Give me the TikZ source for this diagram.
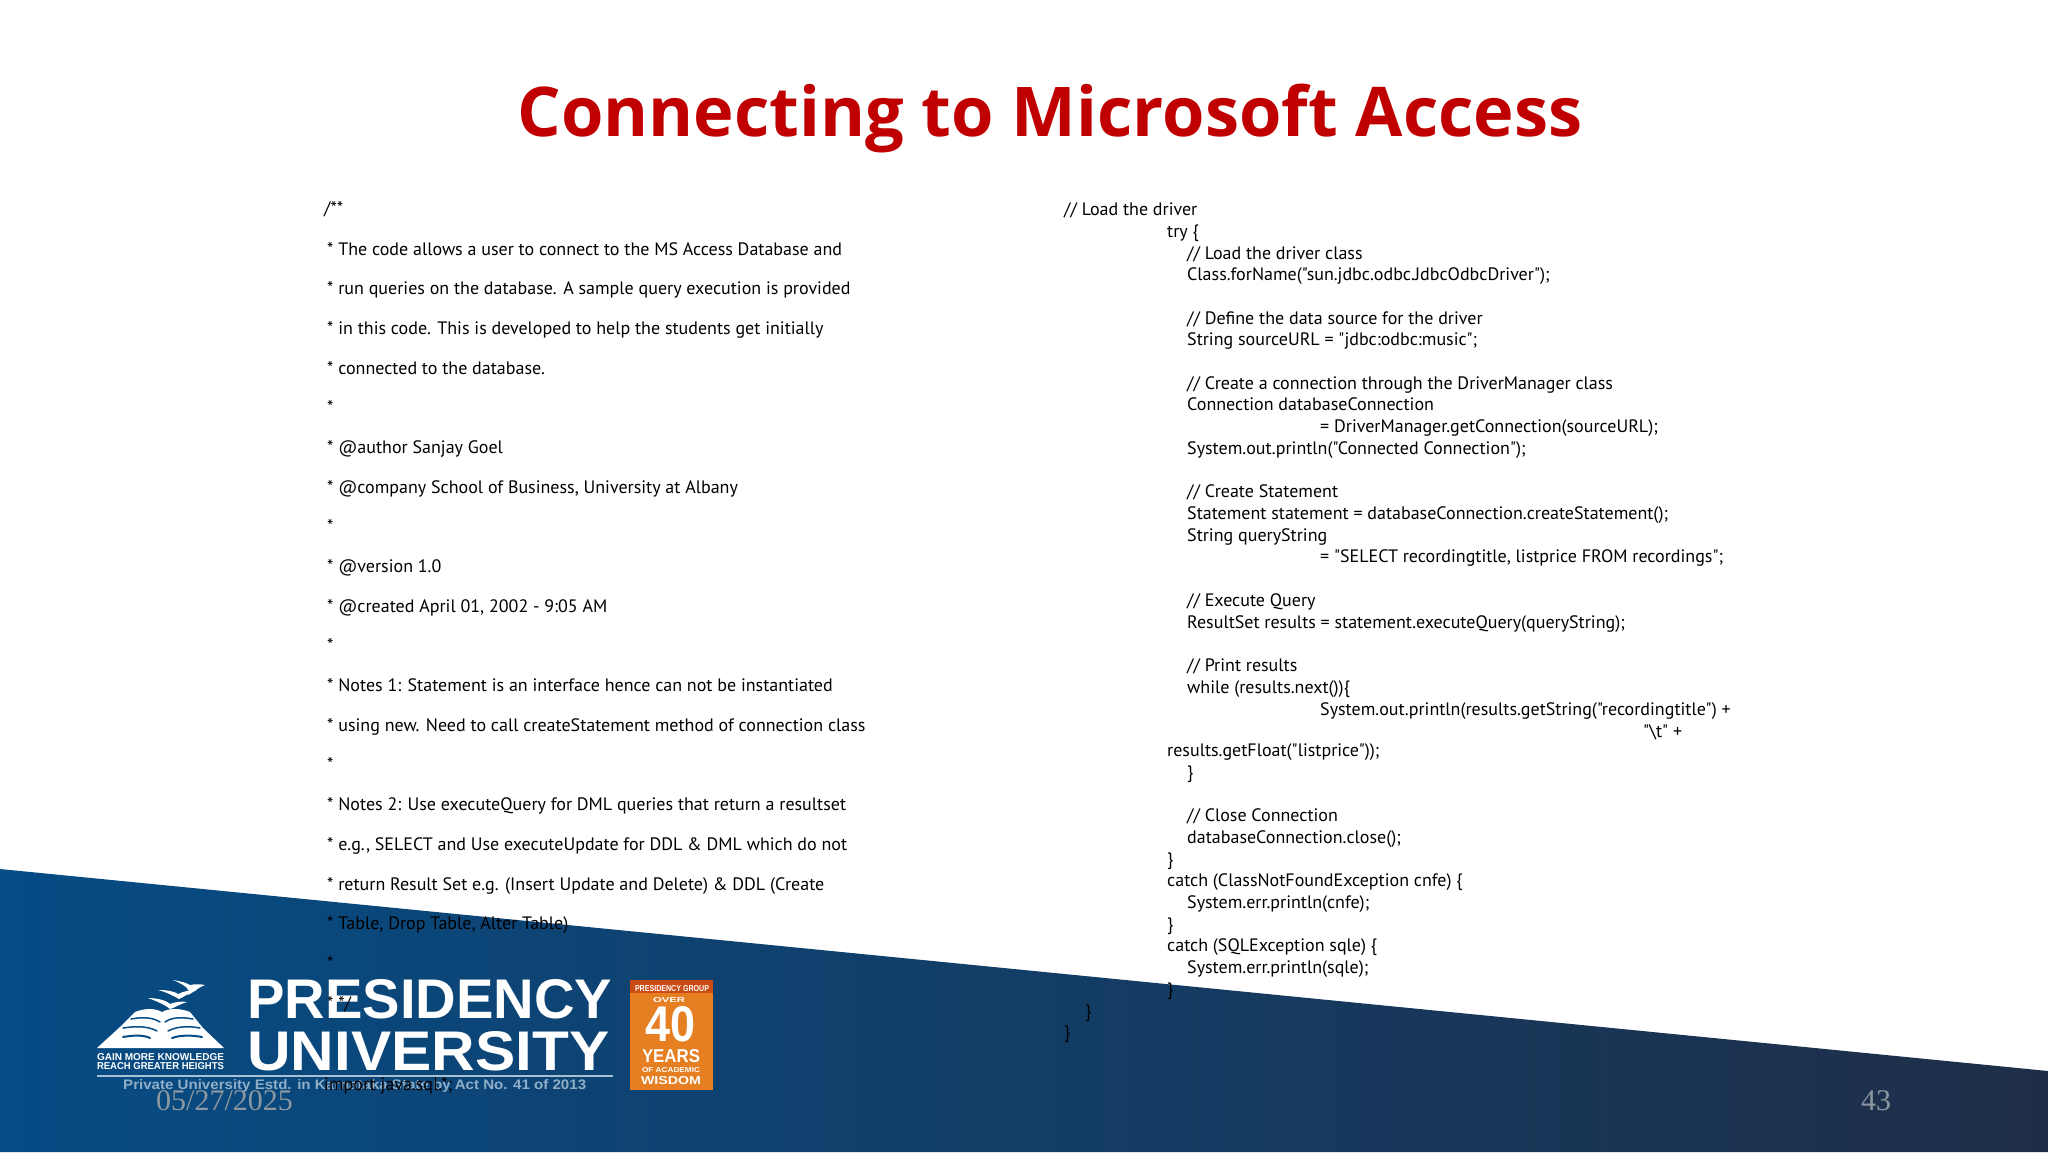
\documentclass[tikz,border=0pt]{standalone}
\usepackage{fontspec}
\usepackage{graphicx}
\setmainfont{Noto Sans}
\newfontfamily\titlefont{Open Sans}
\newfontfamily\codefont{PT Sans}
\newfontfamily\numfont{Liberation Serif}
\newfontfamily\logofont{Liberation Sans}
\definecolor{titlered}{HTML}{C00000}
\definecolor{bandL}{HTML}{064C85}
\definecolor{bandM}{HTML}{0D4370}
\definecolor{bandR}{HTML}{1F2E48}
\definecolor{numgray}{HTML}{8C97A0}
\definecolor{badge}{HTML}{E67E22}
\tikzset{
  code/.style={anchor=base west,inner sep=0pt,yshift=-1pt,text=black,font=\codefont\fontsize{18}{20}\selectfont},
  logotext/.style={inner sep=0pt,text=white,font=\logofont\bfseries},
  numtext/.style={inner sep=0pt,text=numgray,font=\numfont\fontsize{30}{34}\selectfont},
  emblem/.style={fill=white,draw=none},
  stripe/.style={draw=bandL,line width=1.5pt,line cap=round},
}
\newcommand{\fitbox}[3]{\resizebox{#1pt}{#2pt}{#3}}
\begin{document}
\begin{tikzpicture}[x=1pt,y=-1pt]
\useasboundingbox (0,0) rectangle (2048,1152);
\fill[white] (0,0) rectangle (2048,1152);
% band
\shade[left color=bandL,middle color=bandM,right color=bandR,shading angle=90] (0,869) -- (2048,1071) -- (2048,1152) -- (0,1152) -- cycle;
% title
\node[inner sep=0pt,anchor=base,text=titlered,font=\titlefont\bfseries\fontsize{68.6}{80}\selectfont] (title) at (1050,136) {Connecting to Microsoft Access};
% logo: emblem
\fill[emblem] (97,1048) -- (120,1027) -- (135,1012) .. controls (145,1008) and (155,1008) .. (162,1012) .. controls (169,1008) and (180,1008) .. (190,1012) -- (203,1028) -- (224,1048) -- cycle;
\draw[stripe] (131,1019) .. controls (142,1017) and (152,1017) .. (160,1022);
\draw[stripe] (165,1022) .. controls (172,1017) and (182,1017) .. (193,1019);
\draw[stripe] (123,1028) .. controls (136,1026) and (148,1026) .. (157,1031);
\draw[stripe] (168,1031) .. controls (177,1026) and (190,1026) .. (200,1028);
\draw[stripe,line width=2pt] (123,1037) .. controls (134,1035) and (144,1035) .. (150,1038);
\draw[stripe,line width=2pt] (172,1038) .. controls (180,1035) and (192,1035) .. (202,1037);
\fill[emblem] (148,998) .. controls (156,998) and (166,1000) .. (170,1004) .. controls (175,1002) and (182,1001) .. (187,1002) .. controls (180,1004) and (174,1008) .. (170,1009) .. controls (164,1004) and (156,1001) .. (148,998) -- cycle;
\fill[emblem] (158,990) .. controls (166,990) and (174,991) .. (178,994) .. controls (184,991) and (191,990) .. (197,990) .. controls (190,992) and (184,997) .. (179,999) .. controls (172,995) and (166,992) .. (158,990) -- cycle;
\fill[emblem] (173,980) .. controls (180,981) and (187,983) .. (190,985) .. controls (195,984) and (200,984) .. (205,985) .. controls (199,987) and (194,992) .. (188,995) .. controls (190,991) and (188,989) .. (186,987) .. controls (182,984) and (178,982) .. (173,980) -- cycle;
\node[logotext] (tag1) at (160.5,1057) {\fitbox{127}{7}{GAIN MORE KNOWLEDGE}};
\node[logotext] (tag2) at (160.5,1066) {\fitbox{127}{7}{REACH GREATER HEIGHTS}};
% logo: wordmark
\node[logotext,anchor=north west] (pres) at (247,979) {\fitbox{365}{39}{PRESIDENCY}};
\node[logotext,anchor=north west] (univ) at (247,1031) {\fitbox{362}{39}{UNIVERSITY}};
\fill[white!65!bandL] (97,1075) rectangle (613,1077);
\node[logotext,text=white!55!bandL,anchor=west] (estd) at (123,1086) {\fitbox{463}{10}{Private University Estd. in Karnataka State by Act No. 41 of 2013}};
% logo: badge
\fill[badge] (630,980) rectangle (713,1090);
\fill[badge!70!red!85!black] (630,980) rectangle (713,993);
\node[logotext] (bd1) at (672,988.5) {\fitbox{74}{6}{PRESIDENCY GROUP}};
\node[logotext] (bd2) at (669,1000.5) {\fitbox{32}{5}{OVER}};
\node[logotext] (bd3) at (670,1024.5) {\fitbox{50}{35}{40}};
\node[logotext] (bd4) at (671,1056.5) {\fitbox{58}{13}{YEARS}};
\node[logotext] (bd5) at (671,1070.5) {\fitbox{58}{5}{OF ACADEMIC}};
\node[logotext] (bd6) at (671,1081) {\fitbox{60}{8}{WISDOM}};
% left code column
\node[code] (l0) at (324,213) {/**};
\node[code] (l1) at (327,254) {* The code allows a user to connect to the MS Access Database and};
\node[code] (l2) at (327,293) {* run queries on the database. A sample query execution is provided};
\node[code] (l3) at (327,333) {* in this code. This is developed to help the students get initially};
\node[code] (l4) at (327,373) {* connected to the database.};
\node[code] (l5) at (327,412) {*};
\node[code] (l6) at (327,452) {* @author Sanjay Goel};
\node[code] (l7) at (327,492) {* @company School of Business, University at Albany};
\node[code] (l8) at (327,531) {*};
\node[code] (l9) at (327,571) {* @version 1.0};
\node[code] (l10) at (327,611) {* @created April 01, 2002 - 9:05 AM};
\node[code] (l11) at (327,650) {*};
\node[code] (l12) at (327,690) {* Notes 1: Statement is an interface hence can not be instantiated};
\node[code] (l13) at (327,730) {* using new. Need to call createStatement method of connection class};
\node[code] (l14) at (327,769) {*};
\node[code] (l15) at (327,809) {* Notes 2: Use executeQuery for DML queries that return a resultset};
\node[code] (l16) at (327,849) {* e.g., SELECT and Use executeUpdate for DDL \& DML which do not};
\node[code] (l17) at (327,889) {* return Result Set e.g. (Insert Update and Delete) \& DDL (Create};
\node[code] (l18) at (327,928) {* Table, Drop Table, Alter Table)};
\node[code] (l19) at (327,968) {*};
\node[code] (l20) at (327,1008) {* */};
\node[code] (l21) at (324,1089) {import java.sql.*;};
% right code column
\node[code] (r0) at (1064,214) {// Load the driver};
\node[code] (r1) at (1167,236) {try \{};
\node[code] (r2) at (1187,258) {// Load the driver class};
\node[code] (r3) at (1187,279) {Class.forName("sun.jdbc.odbc.JdbcOdbcDriver");};
\node[code] (r5) at (1187,323) {// Define the data source for the driver};
\node[code] (r6) at (1187,344) {String sourceURL = "jdbc:odbc:music";};
\node[code] (r8) at (1187,388) {// Create a connection through the DriverManager class};
\node[code] (r9) at (1187,409) {Connection databaseConnection};
\node[code] (r10) at (1320,431) {= DriverManager.getConnection(sourceURL);};
\node[code] (r11) at (1187,453) {System.out.println("Connected Connection");};
\node[code] (r13) at (1187,496) {// Create Statement};
\node[code] (r14) at (1187,518) {Statement statement = databaseConnection.createStatement();};
\node[code] (r15) at (1187,540) {String queryString};
\node[code] (r16) at (1320,561) {= "SELECT recordingtitle, listprice FROM recordings";};
\node[code] (r18) at (1187,605) {// Execute Query};
\node[code] (r19) at (1187,627) {ResultSet results = statement.executeQuery(queryString);};
\node[code] (r21) at (1187,670) {// Print results};
\node[code] (r22) at (1187,692) {while (results.next())\{};
\node[code] (r23) at (1320,714) {System.out.println(results.getString("recordingtitle") +};
\node[code] (r24) at (1643,736) {"\textbackslash t" +};
\node[code] (r25) at (1167,755) {results.getFloat("listprice"));};
\node[code] (r26) at (1187,777) {\}};
\node[code] (r28) at (1187,820) {// Close Connection};
\node[code] (r29) at (1187,842) {databaseConnection.close();};
\node[code] (r30) at (1167,864) {\}};
\node[code] (r31) at (1167,885) {catch (ClassNotFoundException cnfe) \{};
\node[code] (r32) at (1187,907) {System.err.println(cnfe);};
\node[code] (r33) at (1167,929) {\}};
\node[code] (r34) at (1167,950) {catch (SQLException sqle) \{};
\node[code] (r35) at (1187,972) {System.err.println(sqle);};
\node[code] (r36) at (1167,994) {\}};
\node[code] (r37) at (1085,1016) {\}};
\node[code] (r38) at (1064,1037) {\}};
% footer
\node[numtext,anchor=base west] (date) at (156,1110) {05/27/2025};
\node[numtext,anchor=base west] (page) at (1861,1110) {43};
\end{tikzpicture}
\end{document}
